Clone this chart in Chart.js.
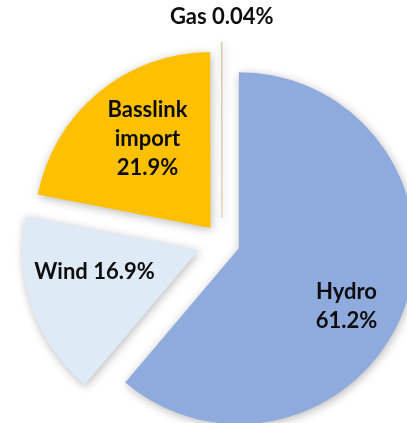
<!DOCTYPE html>
<html>
<head>
<meta charset="utf-8">
<script src="https://cdn.jsdelivr.net/npm/chart.js@4/dist/chart.umd.min.js"></script>
<style>
  html, body { margin: 0; padding: 0; background: #fff; }
  .wrap { width: 407px; height: 423px; position: relative; }
</style>
</head>
<body>
<div class="wrap"><canvas class="pie-chart"></canvas></div>
<script>
      // data (clockwise from 12 o'clock)
      const categories = ["Hydro", "Wind", "Basslink import", "Gas"];
      const shares = [61.2, 16.9, 21.9, 0.04];
      const shareText = ["61.2%", "16.9%", "21.9%", "0.04%"];

      const colors = ["#8FAADC", "#DEEBF7", "#FFC000", "#D6CCAE"];
      const explode = [18, 25, 18, 24];

      // where each label sits: fraction across the slice angle, fraction of radius
      const labelPlace = [
        { a: 0.537, r: 0.694, lines: (c, v) => [c, v] },
        { a: 0.624, r: 0.603, lines: (c, v) => [c + " " + v] },
        { a: 0.554, r: 0.62, lines: (c, v) => [...c.split(" "), v] },
        { a: 0.5, r: 1.14, lines: (c, v) => [c + " " + v] },
      ];

      const FONT = "bold 22px Lato, 'Liberation Sans', sans-serif";
      const LINE_H = 29;

      // pie whose slices are pulled out by a fixed pixel distance each
      // (built-in offset is scaled by 1/4 and grows the radius, so do it here)
      class ExplodedPie extends Chart.PieController {
        draw() {
          const c = this.chart.ctx;
          this._cachedMeta.data.forEach((arc, i) => {
            const mid = (arc.startAngle + arc.endAngle) / 2;
            c.save();
            c.translate(Math.cos(mid) * explode[i], Math.sin(mid) * explode[i]);
            arc.draw(c, this.chart.chartArea);
            c.restore();
          });
        }
      }
      ExplodedPie.id = "explodedPie";
      ExplodedPie.defaults = Chart.PieController.defaults;
      ExplodedPie.overrides = Chart.PieController.overrides;
      Chart.register(ExplodedPie);

      const shadowPlugin = {
        id: "shadow",
        beforeDatasetsDraw(chart) {
          const c = chart.ctx;
          c.save();
          c.shadowColor = "rgba(0,0,0,0.28)";
          c.shadowBlur = 10;
          c.shadowOffsetX = 1;
          c.shadowOffsetY = 2;
        },
        afterDatasetsDraw(chart) {
          chart.ctx.restore();
        },
      };

      const labelPlugin = {
        id: "sliceLabels",
        afterDatasetsDraw(chart) {
          const c = chart.ctx;
          const meta = chart.getDatasetMeta(0);
          c.save();
          c.font = FONT;
          c.fillStyle = "#0d0d0d";
          c.textAlign = "center";
          c.textBaseline = "middle";
          meta.data.forEach((arc, i) => {
            const p = arc.getProps(["x", "y", "startAngle", "endAngle", "outerRadius"], true);
            const place = labelPlace[i];
            const mid = (p.startAngle + p.endAngle) / 2;
            const ox = p.x + Math.cos(mid) * explode[i];
            const oy = p.y + Math.sin(mid) * explode[i];
            const ang = p.startAngle + (p.endAngle - p.startAngle) * place.a;
            const lx = ox + Math.cos(ang) * p.outerRadius * place.r;
            const ly = oy + Math.sin(ang) * p.outerRadius * place.r;
            const lines = place.lines(categories[i], shareText[i]);
            const top = ly - ((lines.length - 1) * LINE_H) / 2;
            lines.forEach((t, k) => c.fillText(t, lx, top + k * LINE_H));
          });
          c.restore();
        },
      };

      const ctx = document.querySelector(".pie-chart").getContext("2d");

      new Chart(ctx, {
        type: "explodedPie",
        data: {
          labels: categories,
          datasets: [
            {
              data: shares,
              backgroundColor: colors,
              borderColor: colors,
              borderWidth: [0, 0, 0, 1.2],
              offset: 0,
              hoverOffset: 0,
            },
          ],
        },
        options: {
          maintainAspectRatio: false,
          responsive: true,
          animation: false,
          radius: 176,
          layout: {
            padding: { left: 37, top: 61, right: 0, bottom: 0 },
          },
          plugins: {
            legend: { display: false },
            tooltip: { enabled: false },
          },
        },
        plugins: [shadowPlugin, labelPlugin],
      });
</script>
</body>
</html>
